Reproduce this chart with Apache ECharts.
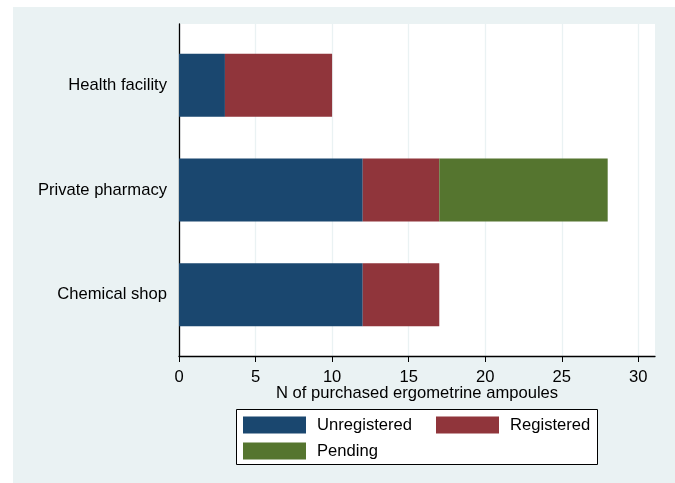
<!DOCTYPE html>
<html><head><meta charset="utf-8">
<script src="https://cdn.jsdelivr.net/npm/echarts@6/dist/echarts.min.js"></script>
<style>html,body{margin:0;padding:0;background:#fff}#c{width:675px;height:483px}</style>
</head><body><div id="c"></div>
<script>
const categories = ['Health facility', 'Private pharmacy', 'Chemical shop'];
const unregistered = [3, 12, 12];
const registered = [7, 5, 5];
const pending = [0, 11, 0];
const xTicks = [0, 5, 10, 15, 20, 25, 30];

const font = '"Liberation Sans", Arial, sans-serif';
const fs = 16.6;
const chart = echarts.init(document.getElementById('c'));
const xMax = 31.09;
chart.setOption({
  animation: false,
  backgroundColor: '#ffffff',
  graphic: [
    {type: 'rect', z: -10, shape: {x: 13, y: 7, width: 662, height: 476}, style: {fill: '#eaf2f3'}},
    {type: 'rect', z: 1, shape: {x: 236.5, y: 409.5, width: 361, height: 55}, style: {fill: '#ffffff', stroke: '#000', lineWidth: 1}}
  ],
  grid: [
    {left: 179, top: 33, width: 476, height: 314, containLabel: false},
    {left: 179, top: 24, width: 476, height: 332, backgroundColor: '#fff', show: true, borderWidth: 0, z: 0}
  ],
  xAxis: [
    {gridIndex: 0, type: 'value', min: 0, max: xMax, show: false},
    {gridIndex: 1, type: 'value', min: 0, max: xMax, interval: 5,
     name: 'N of purchased ergometrine ampoules', nameLocation: 'middle', nameGap: 29, nameMoveOverlap: false,
     nameTextStyle: {fontFamily: font, fontSize: fs, color: '#000'},
     axisLine: {show: true, onZero: false, lineStyle: {color: '#000', width: 1.3}},
     axisTick: {show: true, length: 6, lineStyle: {color: '#000'}, customValues: xTicks},
     axisLabel: {fontFamily: font, fontSize: fs, color: '#000', margin: 13, customValues: xTicks},
     splitLine: {show: true, lineStyle: {color: '#eaf2f3', width: 1.3}}}
  ],
  yAxis: [
    {gridIndex: 0, type: 'category', data: categories, inverse: true,
     axisLine: {show: false}, axisTick: {show: false},
     axisLabel: {fontFamily: font, fontSize: fs, color: '#000', margin: 12, padding: [3, 0, 0, 0]}},
    {gridIndex: 1, type: 'value', min: 0, max: 1, axisLabel: {show: false}, axisTick: {show: false},
     splitLine: {show: false}, axisLine: {show: true, lineStyle: {color: '#000', width: 1.3}}}
  ],
  legend: {
    left: 243, top: 416.5, width: 400, itemWidth: 63, itemHeight: 17, itemGap: 9,
    padding: 0, icon: 'rect', z: 5,
    textStyle: {fontFamily: font, fontSize: fs, color: '#000', width: 110, padding: [0, 0, 0, 6], lineHeight: 17},
    data: ['Unregistered', 'Registered', 'Pending']
  },
  series: [
    {name: 'Unregistered', type: 'bar', stack: 's', data: unregistered, barWidth: 63, xAxisIndex: 0, yAxisIndex: 0,
     itemStyle: {color: '#1a476f'}, z: 3},
    {name: 'Registered', type: 'bar', stack: 's', data: registered, barWidth: 63,
     itemStyle: {color: '#90353b'}, z: 3},
    {name: 'Pending', type: 'bar', stack: 's', data: pending, barWidth: 63,
     itemStyle: {color: '#55752f'}, z: 3}
  ]
});
</script></body></html>
